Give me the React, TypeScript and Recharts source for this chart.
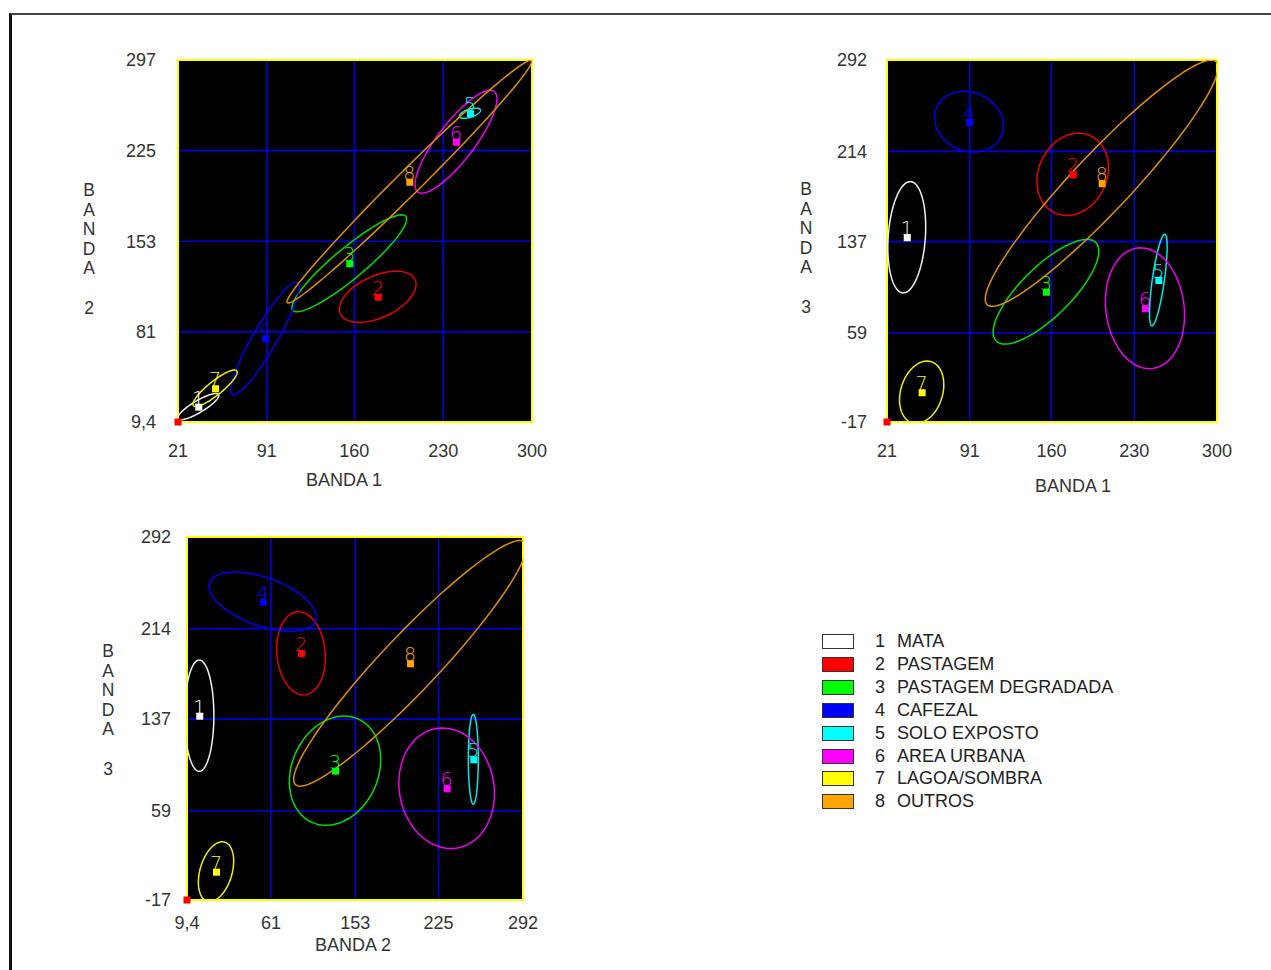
import { CartesianGrid, ReferenceArea, Scatter, ScatterChart, XAxis, YAxis } from "recharts";

const FONT = "'Liberation Sans', Arial, Helvetica, sans-serif";

// classes (legend)
const CLASS_NAMES = ["MATA", "PASTAGEM", "PASTAGEM DEGRADADA", "CAFEZAL", "SOLO EXPOSTO", "AREA URBANA", "LAGOA/SOMBRA", "OUTROS"];
const CLASS_COLORS = ["#ffffff", "#ff0000", "#00ff00", "#0000ff", "#00ffff", "#ff00ff", "#ffff00", "#ffa500"];
const LINE_COLORS = ["#f0f0f0", "#e80000", "#00e000", "#0000f0", "#00e8e8", "#f000f0", "#f0f000", "#e09000"];

// axis ticks
const B1_TICKS = [21, 91, 160, 230, 300];
const B1_LABELS = ["21", "91", "160", "230", "300"];
const B2_Y_TICKS = [9.4, 81, 153, 225, 297];
const B2_Y_LABELS = ["9,4", "81", "153", "225", "297"];
const B2_X_TICKS = [9.4, 80, 151, 221, 292];
const B2_X_LABELS = ["9,4", "61", "153", "225", "292"];
const B3_TICKS = [-17, 59, 137, 214, 292];
const B3_LABELS = ["-17", "59", "137", "214", "292"];

// panel 1: banda 1 x banda 2 (class means + ellipse axes, angle in degrees)
const P1_MEAN_X = [37.0, 178.4, 156.0, 89.6, 251.1, 240.1, 50.2, 203.3];
const P1_MEAN_Y = [21.6, 108.9, 135.5, 75.9, 254.7, 232.1, 36.2, 200.3];
const P1_A = [18.7, 32.4, 58.1, 51.4, 8.7, 50.0, 22.0, 136.0];
const P1_B = [4.7, 16.6, 12.2, 9.5, 3.2, 14.6, 5.5, 9.5];
const P1_ANGLE = [31, 25, 40, 60, 18, 53, 39, 45];

// panel 2: banda 1 x banda 3
const P2_MEAN_X = [37.7, 178.0, 155.4, 90.3, 250.4, 239.1, 50.3, 202.5];
const P2_MEAN_Y = [140.7, 194.4, 94.2, 239.3, 104.2, 80.1, 8.4, 186.8];
const P2_A = [47.6, 36.2, 59.5, 29.9, 39.5, 51.8, 27.3, 141.9];
const P2_B = [15.7, 28.9, 21.2, 25.0, 5.1, 33.1, 17.7, 24.6];
const P2_ANGLE = [86, 66, 45, -25, 82, 97, 73, 47];

// panel 3: banda 2 x banda 3
const P3_MEAN_X = [19.7, 105.3, 133.9, 73.1, 250.2, 227.8, 33.8, 197.0];
const P3_MEAN_Y = [139.9, 193.0, 93.1, 236.9, 102.8, 78.1, 7.1, 184.5];
const P3_A = [47.4, 35.5, 48.1, 47.4, 38.3, 51.6, 26.2, 141.3];
const P3_B = [12.3, 20.3, 36.4, 20.6, 4.2, 39.8, 13.5, 23.7];
const P3_ANGLE = [90, 95, 67, -20, 90, 100, 74, 47];

const panels = [
  {
    plot: { left: 178, top: 60, w: 354, h: 362 },
    xDomain: [21, 300], yDomain: [9.4, 297],
    xTicks: B1_TICKS, xLabels: B1_LABELS, yTicks: B2_Y_TICKS, yLabels: B2_Y_LABELS,
    xGap: 29, yGap: 22,
    meanX: P1_MEAN_X, meanY: P1_MEAN_Y, a: P1_A, b: P1_B, angle: P1_ANGLE,
    xTitle: "BANDA 1", xTitlePos: [344, 480], yTitle: "2", yTitlePos: [89, 191],
  },
  {
    plot: { left: 887, top: 60, w: 330, h: 362 },
    xDomain: [21, 300], yDomain: [-17, 292],
    xTicks: B1_TICKS, xLabels: B1_LABELS, yTicks: B3_TICKS, yLabels: B3_LABELS,
    xGap: 29, yGap: 20,
    meanX: P2_MEAN_X, meanY: P2_MEAN_Y, a: P2_A, b: P2_B, angle: P2_ANGLE,
    xTitle: "BANDA 1", xTitlePos: [1073, 486], yTitle: "3", yTitlePos: [806, 190],
  },
  {
    plot: { left: 187, top: 537, w: 336, h: 363 },
    xDomain: [9.4, 292], yDomain: [-17, 292],
    xTicks: B2_X_TICKS, xLabels: B2_X_LABELS, yTicks: B3_TICKS, yLabels: B3_LABELS,
    xGap: 23, yGap: 16,
    meanX: P3_MEAN_X, meanY: P3_MEAN_Y, a: P3_A, b: P3_B, angle: P3_ANGLE,
    xTitle: "BANDA 2", xTitlePos: [353, 945], yTitle: "3", yTitlePos: [108, 652],
  },
];

function ellipsePoints(cx: number, cy: number, a: number, b: number, deg: number) {
  const th = (deg * Math.PI) / 180;
  const pts = [];
  for (let i = 0; i <= 96; i++) {
    const t = (i / 96) * 2 * Math.PI;
    pts.push({
      x: cx + a * Math.cos(t) * Math.cos(th) - b * Math.sin(t) * Math.sin(th),
      y: cy + a * Math.cos(t) * Math.sin(th) + b * Math.sin(t) * Math.cos(th),
    });
  }
  return pts;
}

const MeanMark = (props: any) => {
  const { cx, cy, payload } = props;
  const c = CLASS_COLORS[payload.cls];
  return (
    <g>
      <text x={cx} y={cy - 2} textAnchor="middle" fill={c} fontSize={19} fontFamily="'DejaVu Sans', sans-serif" fontWeight={200}>
        {payload.cls + 1}
      </text>
      <rect x={cx - 3} y={cy - 3} width={7} height={7} fill={c} />
    </g>
  );
};

const OriginMark = (props: any) => <rect x={props.cx - 3.5} y={props.cy - 3.5} width={7} height={7} fill="#ff0000" />;

function Panel({ p }: any) {
  const ML = 100;
  const MT = 20;
  const bottom = MT + p.plot.h;
  const means = p.meanX.map((x: number, i: number) => ({ x, y: p.meanY[i], cls: i }));
  return (
    <div style={{ position: "absolute", left: p.plot.left - ML, top: p.plot.top - MT }}>
      <ScatterChart width={p.plot.w + 140} height={p.plot.h + 120} margin={{ top: 20, right: 40, bottom: 70, left: 40 }}>
        <CartesianGrid fill="#000000" fillOpacity={1} stroke="#0000dd" strokeWidth={1.6} />
        <XAxis
          type="number" dataKey="x" domain={p.xDomain} ticks={p.xTicks} interval={0}
          allowDataOverflow axisLine={false} tickLine={false} height={30}
          tick={(t: any) => (
            <text x={t.x} y={bottom + p.xGap} dy="0.35em" textAnchor="middle" fill="#333" fontSize={18} fontFamily={FONT}>
              {p.xLabels[p.xTicks.indexOf(t.payload.value)]}
            </text>
          )}
        />
        <YAxis
          type="number" dataKey="y" domain={p.yDomain} ticks={p.yTicks} interval={0}
          allowDataOverflow axisLine={false} tickLine={false} width={60}
          tick={(t: any) => (
            <text x={ML - p.yGap} y={t.y} dy="0.35em" textAnchor="end" fill="#333" fontSize={18} fontFamily={FONT}>
              {p.yLabels[p.yTicks.indexOf(t.payload.value)]}
            </text>
          )}
        />
        <XAxis xAxisId="free" type="number" dataKey="x" domain={p.xDomain} hide />
        <YAxis yAxisId="free" type="number" dataKey="y" domain={p.yDomain} hide />
        <ReferenceArea x1={p.xDomain[0]} x2={p.xDomain[1]} y1={p.yDomain[0]} y2={p.yDomain[1]} fill="none" stroke="#ffff00" strokeWidth={2} ifOverflow="visible" />
        {p.meanX.map((mx: number, i: number) => (
          <Scatter
            key={i}
            data={ellipsePoints(mx, p.meanY[i], p.a[i], p.b[i], p.angle[i])}
            line={{ stroke: LINE_COLORS[i], strokeWidth: 1.5 }}
            lineType="joint"
            shape={() => <g />}
            isAnimationActive={false}
          />
        ))}
        <Scatter xAxisId="free" yAxisId="free" data={means} shape={MeanMark} isAnimationActive={false} />
        <Scatter xAxisId="free" yAxisId="free" data={[{ x: p.xDomain[0], y: p.yDomain[0] }]} shape={OriginMark} isAnimationActive={false} />
      </ScatterChart>
    </div>
  );
}

export default function App() {
  return (
    <div style={{ position: "absolute", left: 0, top: 0, width: 1271, height: 970, overflow: "hidden", background: "#fff", fontFamily: FONT }}>
      <div style={{ position: "absolute", left: 9, top: 13, width: 1300, height: 1000, borderTop: "2px solid #444", borderLeft: "3px solid #111" }} />
      {panels.map((p, k) => (
        <div key={k}>
          <Panel p={p} />
          <div style={{ position: "absolute", left: p.xTitlePos[0] - 60, top: p.xTitlePos[1] - 11, width: 120, textAlign: "center", fontSize: 18, color: "#333", lineHeight: "22px" }}>
            {p.xTitle}
          </div>
          <div style={{ position: "absolute", left: p.yTitlePos[0] - 10, top: p.yTitlePos[1] - 10, width: 20, textAlign: "center", fontSize: 17.5, color: "#333", lineHeight: "19.6px", whiteSpace: "pre" }}>
            {"B\nA\nN\nD\nA\n\n" + p.yTitle}
          </div>
        </div>
      ))}
      {CLASS_NAMES.map((name, i) => (
        <div key={name} style={{ position: "absolute", left: 822, top: 641.7 + i * 22.86 - 11, height: 22, display: "flex", alignItems: "center", fontSize: 18, color: "#222" }}>
          <div style={{ width: 30, height: 13, background: CLASS_COLORS[i], border: "1.5px solid #333" }} />
          <span style={{ position: "absolute", left: 53 }}>{i + 1}</span>
          <span style={{ position: "absolute", left: 75, whiteSpace: "nowrap" }}>{name}</span>
        </div>
      ))}
    </div>
  );
}
